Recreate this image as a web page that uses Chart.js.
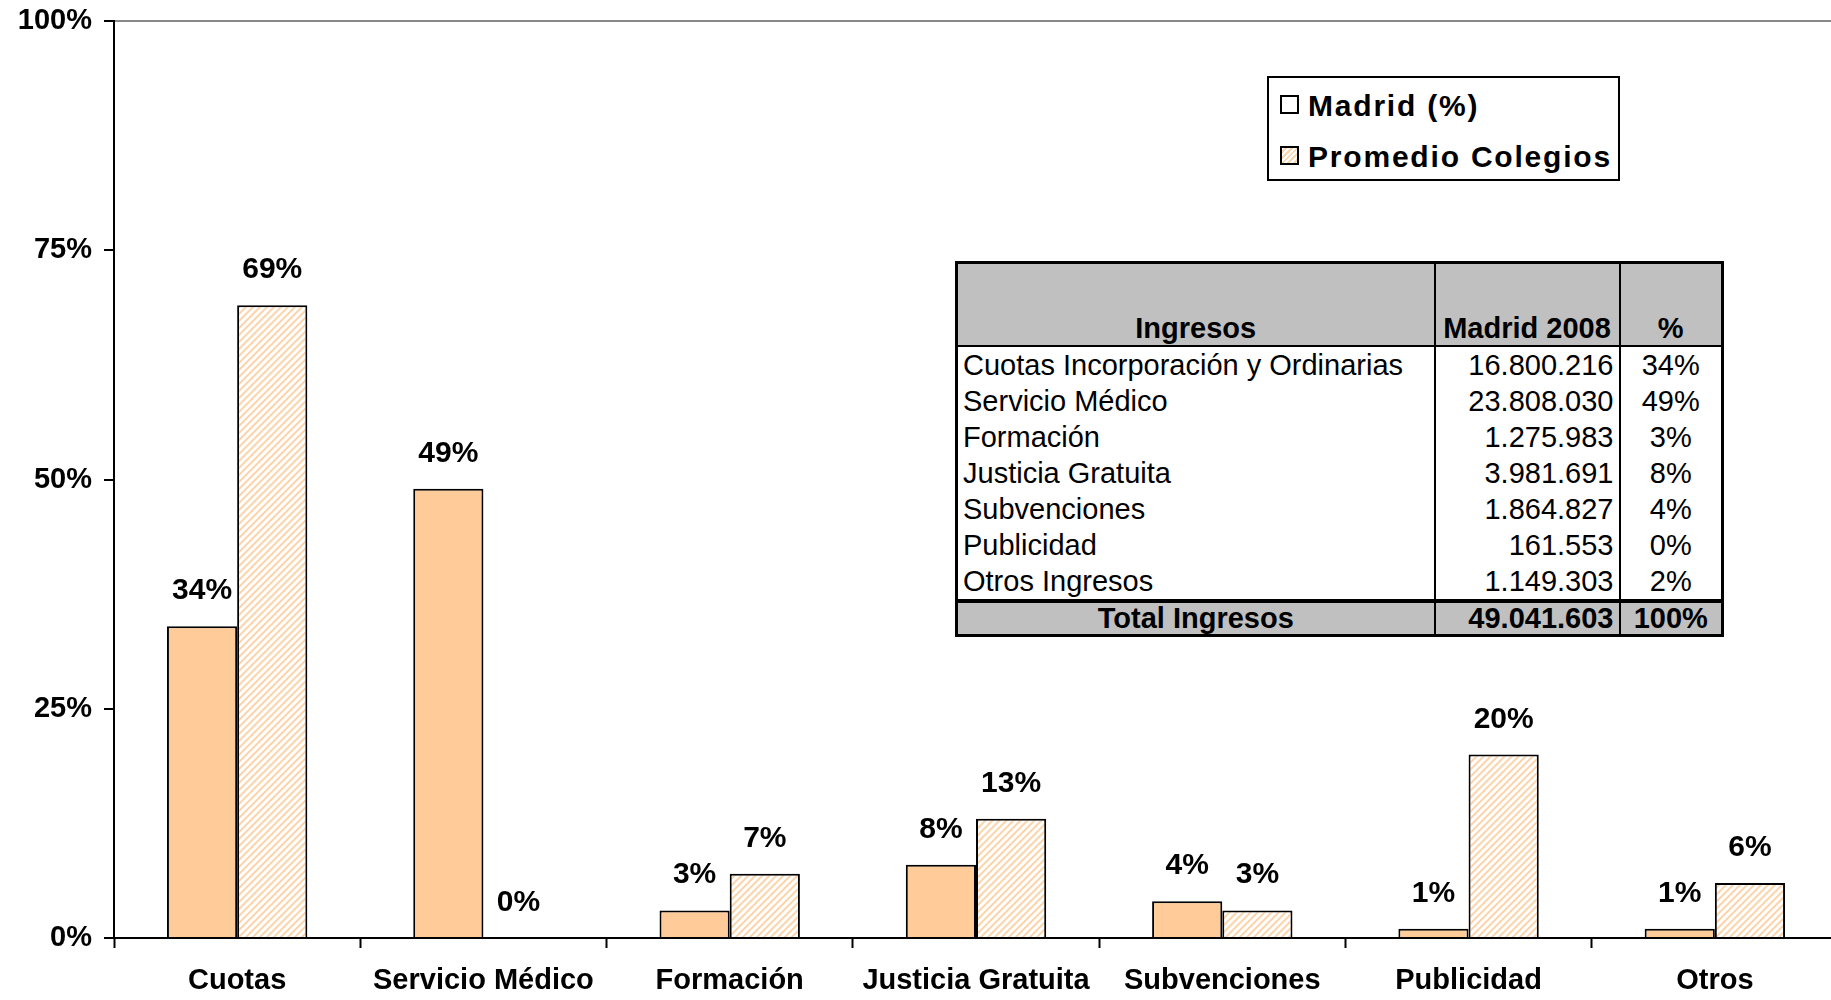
<!DOCTYPE html>
<html lang="es">
<head>
    <meta charset="UTF-8">
    <title>Ingresos Madrid vs Promedio Colegios</title>
    <script src="https://cdn.jsdelivr.net/npm/chart.js"></script>
    <style>
        body { margin: 0; background: #fff; font-family: 'Liberation Sans', Arial, sans-serif; overflow: hidden; }
        /* plot runs slightly past the right edge, as in the original */
        #wrap { position: relative; width: 1838px; height: 1000px; }
        #legend {
            position: absolute; left: 1267px; top: 76px; width: 349px; height: 101px;
            border: 2px solid #000; background: #fff;
        }
        #legend div { position: absolute; left: 11px; font-weight: bold; font-size: 30px; letter-spacing: 1.8px; line-height: 32px; }
        #legend span.sw { display: inline-block; width: 15px; height: 15px; border: 2px solid #000; margin-right: 9px; vertical-align: 2px; }
        #tbl {
            position: absolute; left: 955px; top: 261px; border-collapse: collapse; table-layout: fixed;
            width: 766px; border: 3px solid #000; font-size: 29px; background: #fff;
        }
        #tbl td, #tbl th { padding: 0 5px; height: 36px; line-height: 36px; border-left: 2px solid #000; border-right: 2px solid #000; white-space: nowrap; overflow: hidden; }
        #tbl thead th { background: #c0c0c0; height: 81px; vertical-align: bottom; line-height: 34px; border-bottom: 2px solid #000; }
        #tbl tfoot td { background: #c0c0c0; font-weight: bold; border-top: 4px solid #000; height: 31px; line-height: 31px; }
    </style>
</head>
<body>
<div id="wrap">
    <canvas id="chart"></canvas>
    <div id="legend"></div>
    <table id="tbl"></table>
</div>
<script>
    const categories = ['Cuotas', 'Servicio Médico', 'Formación', 'Justicia Gratuita', 'Subvenciones', 'Publicidad', 'Otros'];
    const madrid = [34, 49, 3, 8, 4, 1, 1];
    const promedio = [69, 0, 7, 13, 3, 20, 6];
    const yTicks = [0, 25, 50, 75, 100];

    const tableHeader = ['Ingresos', 'Madrid 2008', '%'];
    const tableConcepts = ['Cuotas Incorporación y Ordinarias', 'Servicio Médico', 'Formación', 'Justicia Gratuita', 'Subvenciones', 'Publicidad', 'Otros Ingresos'];
    const tableAmounts = ['16.800.216', '23.808.030', '1.275.983', '3.981.691', '1.864.827', '161.553', '1.149.303'];
    const tablePercents = ['34%', '49%', '3%', '8%', '4%', '0%', '2%'];
    const tableTotal = ['Total Ingresos', '49.041.603', '100%'];

    const FONT = "'Liberation Sans', Arial, sans-serif";

    // hatch fill for the "Promedio" series
    function hatch() {
        const s = 7;
        const c = document.createElement('canvas');
        c.width = s; c.height = s;
        const g = c.getContext('2d');
        g.fillStyle = '#fff';
        g.fillRect(0, 0, s, s);
        g.strokeStyle = '#fdd5ad';
        g.lineWidth = 2;
        g.beginPath();
        g.moveTo(0, s); g.lineTo(s, 0);
        g.moveTo(-1, 1); g.lineTo(1, -1);
        g.moveTo(s - 1, s + 1); g.lineTo(s + 1, s - 1);
        g.stroke();
        return g.createPattern(c, 'repeat');
    }

    // legend (Excel showed the Madrid swatch as empty)
    document.getElementById('legend').innerHTML =
        '<div style="top:12px"><span class="sw" style="background:#fff"></span>Madrid (%)</div>' +
        '<div style="top:63px"><span class="sw" style="background:repeating-linear-gradient(135deg,#fff 0 2px,#fdd5ad 2px 4px)"></span>Promedio Colegios</div>';

    // table
    let html = '<colgroup><col style="width:478px"><col style="width:185px"><col style="width:103px"></colgroup>' +
        '<thead><tr><th>' + tableHeader[0] + '</th><th>' + tableHeader[1] + '</th><th>' + tableHeader[2] + '</th></tr></thead><tbody>';
    tableConcepts.forEach((c, i) => {
        html += '<tr><td>' + c + '</td><td style="text-align:right">' + tableAmounts[i] +
            '</td><td style="text-align:center">' + tablePercents[i] + '</td></tr>';
    });
    html += '</tbody><tfoot><tr><td style="text-align:center">' + tableTotal[0] +
        '</td><td style="text-align:right">' + tableTotal[1] +
        '</td><td style="text-align:center">' + tableTotal[2] + '</td></tr></tfoot>';
    document.getElementById('tbl').innerHTML = html;

    const valueLabels = {
        id: 'valueLabels',
        afterDatasetsDraw(chart) {
            const ctx = chart.ctx;
            ctx.save();
            ctx.font = 'bold 30px ' + FONT;
            ctx.fillStyle = '#000';
            ctx.textAlign = 'center';
            ctx.textBaseline = 'alphabetic';
            chart.data.datasets.forEach((ds, di) => {
                chart.getDatasetMeta(di).data.forEach((bar, i) => {
                    ctx.fillText(ds.data[i] + '%', bar.x, bar.y - 27);
                });
            });
            ctx.restore();
        }
    };

    new Chart(document.getElementById('chart'), {
        type: 'bar',
        data: {
            labels: categories,
            datasets: [{
                label: 'Madrid (%)',
                data: madrid,
                backgroundColor: '#ffcc99',
                borderColor: '#000',
                borderWidth: 2,
                categoryPercentage: 0.57,
                barPercentage: 1
            }, {
                label: 'Promedio Colegios',
                data: promedio,
                backgroundColor: hatch(),
                borderColor: '#000',
                borderWidth: 2,
                categoryPercentage: 0.57,
                barPercentage: 1
            }]
        },
        options: {
            responsive: true,
            maintainAspectRatio: false,
            animation: false,
            layout: { padding: { top: 21, right: 0, left: 0, bottom: 0 } },
            plugins: {
                legend: { display: false },
                tooltip: { enabled: false }
            },
            scales: {
                x: {
                    grid: { offset: true, drawOnChartArea: false, tickLength: 10, tickColor: '#000', tickWidth: 2 },
                    border: { color: '#000', width: 2 },
                    ticks: { color: '#000', font: { family: FONT, size: 29, weight: 'bold' }, padding: 16, maxRotation: 0 },
                    afterFit: s => { s.height = 62; s.paddingLeft = 0; s.paddingRight = 0; }
                },
                y: {
                    min: 0,
                    max: 100,
                    afterBuildTicks: s => { s.ticks = yTicks.map(v => ({ value: v })); },
                    grid: {
                        color: c => (c.tick && c.tick.value === 100 ? '#888' : 'transparent'),
                        lineWidth: 2,
                        tickColor: '#000',
                        tickLength: 10,
                        tickWidth: 2
                    },
                    border: { color: '#000', width: 2 },
                    ticks: { color: '#000', font: { family: FONT, size: 29, weight: 'bold' }, padding: 12, callback: v => v + '%' },
                    afterFit: s => { s.width = 114; s.paddingTop = 0; s.paddingBottom = 0; }
                }
            }
        },
        plugins: [valueLabels]
    });
</script>
</body>
</html>
